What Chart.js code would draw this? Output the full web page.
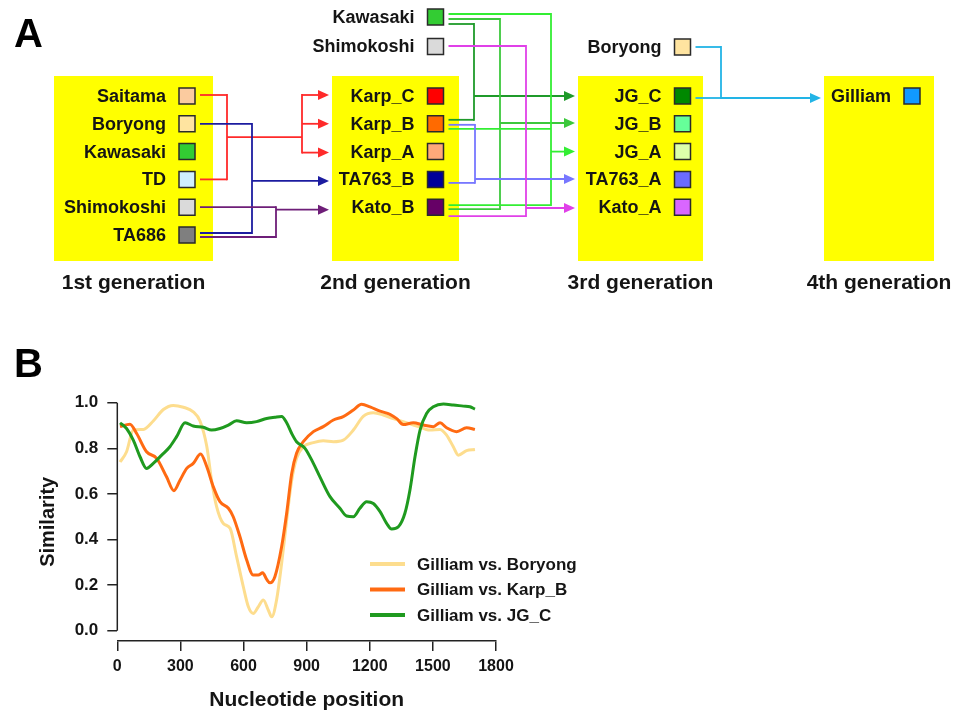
<!DOCTYPE html>
<html><head><meta charset="utf-8">
<script src="https://cdn.jsdelivr.net/npm/chart.js@4.4.1/dist/chart.umd.min.js"></script>
<style>
html,body{margin:0;padding:0;background:#fff;width:967px;height:713px;overflow:hidden}
#a{position:absolute;left:0;top:0;width:967px;height:330px}
#b{position:absolute;left:0;top:330px;width:967px;height:383px}
</style></head><body>
<canvas id="a" width="967" height="330"></canvas>
<canvas id="b" width="967" height="383"></canvas>
<script>
// ---------------- DATA: panel A (pedigree) ----------------
const generationTitles = ['1st generation', '2nd generation', '3rd generation', '4th generation'];
const gen1Strains = ['Saitama', 'Boryong', 'Kawasaki', 'TD', 'Shimokoshi', 'TA686'];
const gen1Colors = ['#FBCB9F', '#FFE4A0', '#33CC33', '#CFEFFF', '#DADADA', '#7F7F7F'];
const gen2Strains = ['Karp_C', 'Karp_B', 'Karp_A', 'TA763_B', 'Kato_B'];
const gen2Colors = ['#FF0000', '#FF6A00', '#FFA97A', '#000099', '#660066'];
const gen2Donors = ['Kawasaki', 'Shimokoshi'];
const gen2DonorColors = ['#33CC33', '#DADADA'];
const gen3Strains = ['JG_C', 'JG_B', 'JG_A', 'TA763_A', 'Kato_A'];
const gen3Colors = ['#008800', '#66FF99', '#DDFFAA', '#6B6BFF', '#D966FF'];
const gen3Donors = ['Boryong'];
const gen3DonorColors = ['#FFE4A0'];
const gen4Strains = ['Gilliam'];
const gen4Colors = ['#1199FF'];

const crossParents = [
  ['1:Saitama', '1:TD'],
  ['1:Boryong', '1:TA686'],
  ['1:Shimokoshi', '1:TA686'],
  ['2d:Kawasaki', '2:Karp_B'],
  ['2d:Kawasaki', '2:Kato_B'],
  ['2d:Kawasaki', '2:Karp_B', '2:Kato_B'],
  ['2:Karp_B', '2:TA763_B'],
  ['2d:Shimokoshi', '2:Kato_B'],
  ['3d:Boryong', '3:JG_C']
];
const crossChildren = [
  ['2:Karp_C', '2:Karp_B', '2:Karp_A'],
  ['2:TA763_B'],
  ['2:Kato_B'],
  ['3:JG_C'],
  ['3:JG_B'],
  ['3:JG_A'],
  ['3:TA763_A'],
  ['3:Kato_A'],
  ['4:Gilliam']
];
const crossColors = ['#FF2A2A', '#1C1CA0', '#6E1E78', '#1F9A2A', '#3CC83C', '#33EE33', '#7777FF', '#E040E8', '#22B4E6'];

// ---------------- layout for panel A (positions only) ----------------
const layoutA = {
  boxTop: 76, boxBottom: 261, titleY: 283, rowY0: 96, rowStep: 27.8,
  donorY2: [17, 46.5], donorY3: [47],
  cols: [{l: 54, r: 213, sq: 187}, {l: 332, r: 459, sq: 435.5}, {l: 578, r: 703, sq: 682.5}, {l: 824, r: 934, sq: 912}],
  sq: 16, labelGap: 13, lineGap: 5, tipGap: 3
};
const routing = [
  {bus: 227, bus2: 302, pOff: [-1, 0], cOff: [-1, 0, 1]},
  {bus: 252, pOff: [0, -2], cOff: [1.5]},
  {bus: 276, pOff: [0, 2], cOff: [2.5]},
  {bus: 474, pOff: [7, -4], cOff: [0]},
  {bus: 500, pOff: [2, 2], cOff: [-0.8]},
  {bus: 551, pOff: [-3, 5, -2], cOff: [0]},
  {bus: 475, pOff: [1, 3.5], cOff: [-0.4]},
  {bus: 526, pOff: [-0.5, 9], cOff: [0.8]},
  {bus: 721, pOff: [0, 2], cOff: [2]}
];

// ---------------- DATA: panel B (similarity plot) ----------------
const xTicks = [0, 300, 600, 900, 1200, 1500, 1800];
const yTicks = [0, 0.2, 0.4, 0.6, 0.8, 1.0];
const seriesLabels = ['Gilliam vs. Boryong', 'Gilliam vs. Karp_B', 'Gilliam vs. JG_C'];
const seriesColors = ['#FDDD8E', '#FF6A12', '#1F9A1F'];
const boryongPos = [13, 44, 76, 124, 171, 219, 266, 314, 361, 393, 425, 448, 472, 504, 536, 567, 599, 623, 646, 670, 694, 718, 734, 757, 781, 805, 829, 852, 884, 932, 979, 1027, 1074, 1122, 1169, 1217, 1264, 1312, 1359, 1423, 1486, 1534, 1565, 1597, 1621, 1660, 1700];
const boryongSim = [0.74, 0.785, 0.88, 0.883, 0.92, 0.97, 0.988, 0.98, 0.96, 0.92, 0.81, 0.66, 0.544, 0.47, 0.449, 0.325, 0.193, 0.105, 0.076, 0.105, 0.135, 0.09, 0.061, 0.135, 0.295, 0.485, 0.66, 0.756, 0.807, 0.825, 0.833, 0.829, 0.836, 0.88, 0.94, 0.956, 0.946, 0.93, 0.917, 0.898, 0.88, 0.883, 0.858, 0.807, 0.77, 0.79, 0.795];
const karpBPos = [13, 60, 92, 139, 187, 234, 269, 298, 330, 361, 396, 425, 456, 488, 528, 551, 583, 615, 646, 670, 691, 710, 726, 749, 781, 805, 829, 852, 884, 932, 979, 1027, 1074, 1122, 1161, 1201, 1249, 1296, 1328, 1359, 1407, 1454, 1502, 1534, 1565, 1613, 1660, 1700];
const karpBSim = [0.895, 0.906, 0.865, 0.785, 0.756, 0.675, 0.614, 0.66, 0.712, 0.734, 0.775, 0.72, 0.632, 0.566, 0.537, 0.5, 0.412, 0.31, 0.244, 0.244, 0.254, 0.225, 0.21, 0.237, 0.368, 0.515, 0.69, 0.778, 0.829, 0.873, 0.895, 0.924, 0.939, 0.968, 0.993, 0.982, 0.963, 0.949, 0.93, 0.904, 0.912, 0.902, 0.895, 0.912, 0.89, 0.873, 0.89, 0.883];
const jgcPos = [13, 44, 76, 108, 139, 171, 211, 250, 282, 322, 361, 409, 448, 488, 528, 567, 615, 662, 710, 749, 781, 805, 829, 852, 892, 932, 963, 1011, 1058, 1090, 1122, 1153, 1185, 1217, 1249, 1280, 1304, 1336, 1367, 1391, 1415, 1439, 1470, 1502, 1550, 1597, 1645, 1676, 1700];
const jgcSim = [0.912, 0.887, 0.836, 0.763, 0.712, 0.734, 0.77, 0.807, 0.851, 0.912, 0.898, 0.892, 0.88, 0.887, 0.902, 0.921, 0.912, 0.917, 0.931, 0.936, 0.939, 0.912, 0.865, 0.829, 0.8, 0.734, 0.675, 0.588, 0.537, 0.503, 0.5, 0.537, 0.566, 0.558, 0.522, 0.471, 0.446, 0.456, 0.515, 0.617, 0.763, 0.88, 0.953, 0.982, 0.994, 0.99, 0.985, 0.982, 0.972];

// ---------------- build ----------------
const FONT = '"Liberation Sans", Arial, Helvetica, sans-serif';
Chart.defaults.font.family = FONT;
const TXT = '#151515';

const groups = [
  {names: gen1Strains, colors: gen1Colors, col: 0, id: '1', ys: gen1Strains.map((_, i) => layoutA.rowY0 + i * layoutA.rowStep)},
  {names: gen2Strains, colors: gen2Colors, col: 1, id: '2', ys: gen2Strains.map((_, i) => layoutA.rowY0 + i * layoutA.rowStep)},
  {names: gen2Donors, colors: gen2DonorColors, col: 1, id: '2d', ys: layoutA.donorY2},
  {names: gen3Strains, colors: gen3Colors, col: 2, id: '3', ys: gen3Strains.map((_, i) => layoutA.rowY0 + i * layoutA.rowStep)},
  {names: gen3Donors, colors: gen3DonorColors, col: 2, id: '3d', ys: layoutA.donorY3},
  {names: gen4Strains, colors: gen4Colors, col: 3, id: '4', ys: [layoutA.rowY0]}
];
const nodes = {};
const nodeList = [];
groups.forEach(g => g.names.forEach((n, i) => {
  const nd = {name: n, color: g.colors[i], col: g.col, x: layoutA.cols[g.col].sq, y: g.ys[i]};
  nodes[g.id + ':' + n] = nd; nodeList.push(nd);
}));

const pedigreePlugin = {
  id: 'pedigree',
  beforeDatasetsDraw(chart) {
    const {ctx, scales: {x, y}} = chart;
    const px = v => x.getPixelForValue(v), py = v => y.getPixelForValue(v);
    ctx.save();
    // panel letter
    ctx.fillStyle = '#000'; ctx.font = 'bold 40px ' + FONT; ctx.textAlign = 'left'; ctx.textBaseline = 'alphabetic';
    ctx.fillText('A', px(14), py(47));
    // boxes + titles
    layoutA.cols.forEach((c, i) => {
      ctx.fillStyle = '#FFFF00';
      ctx.fillRect(px(c.l), py(layoutA.boxTop), px(c.r) - px(c.l), py(layoutA.boxBottom) - py(layoutA.boxTop));
      ctx.fillStyle = TXT; ctx.font = 'bold 21px ' + FONT; ctx.textAlign = 'center'; ctx.textBaseline = 'middle';
      ctx.fillText(generationTitles[i], px((c.l + c.r) / 2), py(layoutA.titleY));
    });
    // labels
    ctx.font = 'bold 18px ' + FONT; ctx.textAlign = 'right'; ctx.textBaseline = 'middle'; ctx.fillStyle = TXT;
    nodeList.forEach(n => ctx.fillText(n.name, px(n.x - layoutA.sq / 2 - layoutA.labelGap), py(n.y + 1)));
    // connectors
    ctx.lineWidth = 1.8; ctx.lineCap = 'butt';
    crossParents.forEach((ps, k) => {
      const r = routing[k], col = crossColors[k];
      ctx.strokeStyle = col; ctx.fillStyle = col;
      const seg = (x1, y1, x2, y2) => { ctx.beginPath(); ctx.moveTo(px(x1), py(y1)); ctx.lineTo(px(x2), py(y2)); ctx.stroke(); };
      const arrow = (x1, yy, tip) => {
        seg(x1, yy, tip - 9, yy);
        ctx.beginPath(); ctx.moveTo(px(tip), py(yy)); ctx.lineTo(px(tip - 11), py(yy - 5)); ctx.lineTo(px(tip - 11), py(yy + 5)); ctx.closePath(); ctx.fill();
      };
      const sy = ps.map((p, i) => nodes[p].y + r.pOff[i]);
      ps.forEach((p, i) => seg(nodes[p].x + layoutA.sq / 2 + layoutA.lineGap, sy[i], r.bus, sy[i]));
      const kids = crossChildren[k];
      const cy = kids.map((c, i) => nodes[c].y + r.cOff[i]);
      const tip = layoutA.cols[nodes[kids[0]].col].l - layoutA.tipGap;
      if (r.bus2 !== undefined) {
        const lo = Math.min(...sy), hi = Math.max(...sy);
        seg(r.bus, lo - 0.9, r.bus, hi + 0.9);
        const mid = (lo + hi) / 2;
        seg(r.bus, mid, r.bus2, mid);
        seg(r.bus2, Math.min(...cy) - 0.9, r.bus2, Math.max(...cy) + 0.9);
        cy.forEach(v => arrow(r.bus2, v, tip));
      } else {
        const all = sy.concat(cy);
        seg(r.bus, Math.min(...all) - 0.9, r.bus, Math.max(...all) + 0.9);
        cy.forEach(v => arrow(r.bus, v, tip));
      }
    });
    ctx.restore();
  }
};

new Chart(document.getElementById('a'), {
  type: 'scatter',
  data: {datasets: [{
    data: nodeList.map(n => ({x: n.x, y: n.y})),
    pointStyle: 'rect',
    pointRadius: layoutA.sq / 2 / Math.SQRT1_2,
    pointHoverRadius: layoutA.sq / 2 / Math.SQRT1_2,
    backgroundColor: nodeList.map(n => n.color),
    borderColor: '#2a2a2a', borderWidth: 1.5
  }]},
  options: {
    responsive: false, animation: false, devicePixelRatio: 1,
    layout: {padding: 0, autoPadding: false},
    plugins: {legend: {display: false}, tooltip: {enabled: false}},
    scales: {
      x: {type: 'linear', min: 0, max: 967, display: false},
      y: {type: 'linear', min: 0, max: 330, reverse: true, display: false}
    }
  },
  plugins: [pedigreePlugin]
});

// ---------------- panel B ----------------
const panelBPlugin = {
  id: 'panelB',
  afterDraw(chart) {
    const {ctx, scales: {x, y}, chartArea} = chart;
    ctx.save();
    ctx.fillStyle = '#000'; ctx.font = 'bold 40px ' + FONT; ctx.textAlign = 'left'; ctx.textBaseline = 'alphabetic';
    ctx.fillText('B', 14, 47);
    // R-style y axis line from first to last tick
    ctx.strokeStyle = '#222'; ctx.lineWidth = 1.5;
    ctx.beginPath();
    ctx.moveTo(chartArea.left, y.getPixelForValue(yTicks[0]));
    ctx.lineTo(chartArea.left, y.getPixelForValue(yTicks[yTicks.length - 1]));
    ctx.stroke();
    // legend
    chart.data.datasets.forEach((ds, i) => {
      const ly = 234 + i * 25.5;
      ctx.strokeStyle = ds.borderColor; ctx.lineWidth = 4;
      ctx.beginPath(); ctx.moveTo(370, ly); ctx.lineTo(405, ly); ctx.stroke();
      ctx.fillStyle = TXT; ctx.font = 'bold 17px ' + FONT; ctx.textAlign = 'left'; ctx.textBaseline = 'middle';
      ctx.fillText(ds.label, 417, ly + 1);
    });
    ctx.restore();
  }
};

const seriesPos = [boryongPos, karpBPos, jgcPos];
const seriesSim = [boryongSim, karpBSim, jgcSim];

new Chart(document.getElementById('b'), {
  type: 'line',
  data: {datasets: seriesLabels.map((lab, k) => ({
    label: lab,
    data: seriesPos[k].map((p, i) => ({x: p, y: seriesSim[k][i]})),
    borderColor: seriesColors[k], borderWidth: 3,
    pointRadius: 0, pointHoverRadius: 0, fill: false,
    cubicInterpolationMode: 'monotone', clip: 8,
    order: 2 - k
  }))},
  options: {
    responsive: false, animation: false, devicePixelRatio: 1,
    layout: {padding: {left: 0, top: 72.7, right: 471, bottom: 0}, autoPadding: false},
    plugins: {legend: {display: false}, tooltip: {enabled: false}},
    scales: {
      x: {
        type: 'linear', min: 0, max: 1800,
        afterBuildTicks: s => { s.ticks = xTicks.map(v => ({value: v})); },
        afterFit: s => { s.height = 72; },
        grid: {drawOnChartArea: false, drawTicks: true, tickLength: 10, color: '#222', lineWidth: 1.5},
        border: {display: true, color: '#222', width: 1.5},
        ticks: {color: TXT, font: {size: 16, weight: 'bold'}, padding: 6, maxRotation: 0, autoSkip: false, callback: v => String(v)},
        title: {display: true, text: 'Nucleotide position', color: TXT, font: {size: 21, weight: 'bold'}, padding: {top: 0, bottom: 0}}
      },
      y: {
        type: 'linear', min: -0.045, max: 1.0,
        afterBuildTicks: s => { s.ticks = yTicks.map(v => ({value: v})); },
        afterFit: s => { s.width = 117.3; },
        grid: {drawOnChartArea: false, drawTicks: true, tickLength: 10, color: '#222', lineWidth: 1.5},
        border: {display: false},
        ticks: {color: TXT, font: {size: 17, weight: 'bold'}, padding: 9, callback: v => v.toFixed(1)},
        title: {display: true, text: 'Similarity', color: TXT, font: {size: 20, weight: 'bold'}, padding: {top: 36, bottom: 0}}
      }
    }
  },
  plugins: [panelBPlugin]
});
</script></body></html>
